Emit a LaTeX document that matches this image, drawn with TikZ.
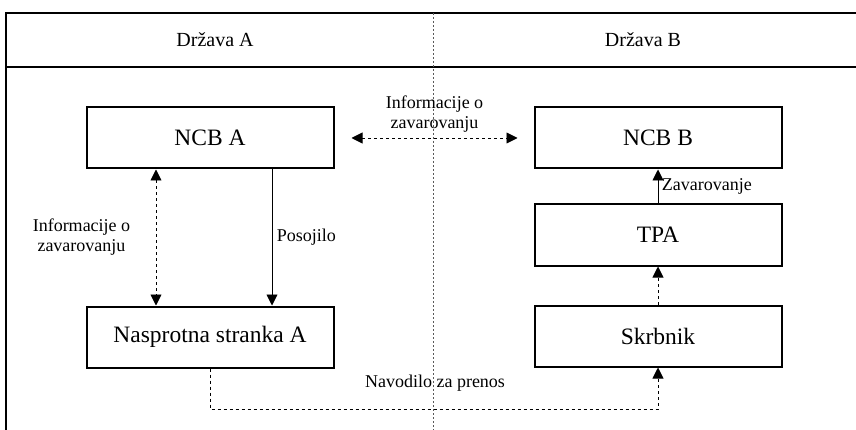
\documentclass[tikz,border=0pt]{standalone}
\usepackage{fontspec}
\setmainfont{Liberation Serif}
\usepackage{tikz}
\usetikzlibrary{positioning, arrows, arrows.meta}

\begin{document}
\begin{tikzpicture}[
    x=1pt, y=-1pt,
    party/.style={draw, line width=2pt, minimum width=247pt, minimum height=61pt,
        inner sep=0pt, font=\fontsize{23.5}{28}\selectfont},
    note/.style={font=\fontsize{18}{20}\selectfont, align=center},
    flow/.style={line width=0.9pt, -{Triangle[length=11pt,width=11pt]}},
    both/.style={line width=0.9pt, {Triangle[length=11pt,width=11pt]}-{Triangle[length=11pt,width=11pt]}},
    dotline/.style={dash pattern=on 3pt off 3pt}
]
    \useasboundingbox (0,0) rectangle (856,430);

    % 1. Frame, header row and the dividing line
    \draw[line width=2pt] (6,440) -- (6,13) -- (870,13);
    \draw[line width=2pt] (6,67) -- (870,67);
    \draw[line width=0.7pt, dash pattern=on 2pt off 2pt, gray!70!black] (433,13) -- (433,440);
    \node[font=\fontsize{20}{24}\selectfont] (hdrA) at (215,40) {Država A};
    \node[font=\fontsize{20}{24}\selectfont] (hdrB) at (643,40) {Država B};

    % 2. Define the nodes using explicit coordinates
    \node[party] (ncbA) at (210,138) {NCB A};
    \node[party] (nasA) at (210,337) {Nasprotna stranka A};
    \node[party] (ncbB) at (658,138) {NCB B};
    \node[party] (tpa)  at (658,235) {TPA};
    \node[party] (skrb) at (658,336) {Skrbnik};
    \coordinate (turn) at (0,409);

    % 3. Draw the arrows

    % NCB A <-> NCB B (dashed, top)
    \draw[both, dotline] ([xshift=17]ncbA.east) -- ([xshift=-16]ncbB.west)
        node[midway, above=2pt, note] {Informacije o\\zavarovanju};

    % NCB A <-> Nasprotna stranka A (dashed)
    \draw[both, dotline] (ncbA.south -| 156,0) -- (nasA.north -| 156,0)
        node[midway, left=22pt, note] {Informacije o\\zavarovanju};

    % NCB A -> Nasprotna stranka A (Posojilo)
    \draw[flow] (ncbA.south -| 272,0) -- (nasA.north -| 272,0)
        node[midway, right=1pt, note] {Posojilo};

    % TPA -> NCB B
    \draw[flow] (tpa.north) -- (ncbB.south)
        node[midway, right=0pt, note] {Zavarovanje};

    % Skrbnik -> TPA
    \draw[flow, dotline] (skrb.north) -- (tpa.south);

    % Nasprotna stranka A -> Skrbnik
    \draw[flow, dotline] (nasA.south) |- (skrb.south |- turn) -- (skrb.south);
    \node[note] (order) at (435,383) {Navodilo za prenos};

\end{tikzpicture}
\end{document}
